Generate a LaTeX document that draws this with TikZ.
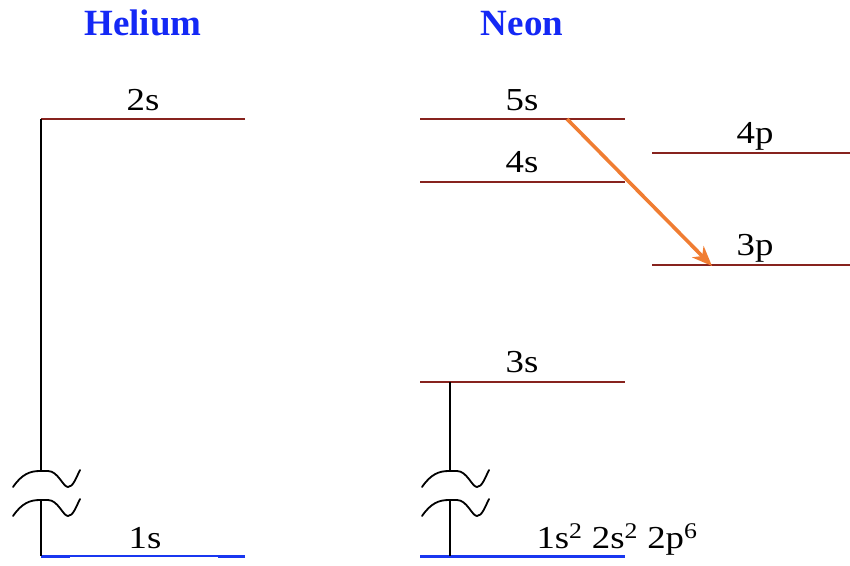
\documentclass[tikz,border=0pt]{standalone}
\usepackage{fontspec}
\setmainfont{Liberation Serif}
\usetikzlibrary{arrows.meta, positioning, calc}
\definecolor{LevelRed}{RGB}{135, 35, 30}
\definecolor{GroundBlue}{RGB}{25, 55, 240}
\definecolor{TitleBlue}{RGB}{20, 40, 245}
\definecolor{EmitOrange}{RGB}{240, 125, 50}
\tikzset{
  lvl/.style={draw=#1, line width=2.4pt},
  thinlvl/.style={draw=#1, line width=1.2pt},
  lbl/.style={font=\fontsize{32}{34}\selectfont, inner sep=0pt, anchor=base,
              xscale=1.15, transform shape},
  ttl/.style={font=\fontsize{37}{40}\selectfont\bfseries, text=TitleBlue,
              inner sep=0pt, anchor=base},
  axisline/.style={draw=black, line width=1.8pt},
  brk/.style={draw=black, line width=1.8pt, line cap=round},
  arr/.style={-{Stealth[length=20pt, width=16pt, inset=6pt]}, line width=3.6pt, color=#1},
}
\begin{document}
\begin{tikzpicture}[x=1pt, y=-1pt]
  \useasboundingbox (0,0) rectangle (850,565);

  % titles
  \node[ttl] (he) at (143,35) {Helium};
  \node[ttl] (ne) at (522,35) {Neon};

  % helium levels
  \coordinate (he2sL) at (41,119);  \coordinate (he2sR) at (245,119);
  \coordinate (he1sL) at (41,556);  \coordinate (he1sR) at (245,556);
  \draw[thinlvl=LevelRed]   (he2sL) -- (he2sR);
  \draw[lvl=LevelRed]       (he2sL) -- ++(29,0);
  \draw[lvl=LevelRed]       (he2sR) -- ++(-27,0);
  \draw[thinlvl=GroundBlue] (he1sL) -- (he1sR);
  \draw[lvl=GroundBlue, line width=3pt] (he1sL) -- ++(29,0);
  \draw[lvl=GroundBlue, line width=3pt] (he1sR) -- ++(-27,0);
  \node[lbl] (he2s) at (143,110) {2s};
  \node[lbl] (he1s) at (145,548) {1s};

  % neon levels
  \coordinate (ne5sL) at (420,119); \coordinate (ne5sR) at (625,119);
  \coordinate (ne4sL) at (420,182); \coordinate (ne4sR) at (625,182);
  \coordinate (ne3sL) at (420,382); \coordinate (ne3sR) at (625,382);
  \coordinate (ne4pL) at (652,153); \coordinate (ne4pR) at (850,153);
  \coordinate (ne3pL) at (652,265); \coordinate (ne3pR) at (850,265);
  \coordinate (ne1sL) at (420,556); \coordinate (ne1sR) at (625,556);
  \foreach \lv in {5s,4s,3s,4p,3p}
    \draw[lvl=LevelRed] (ne\lv L) -- (ne\lv R);
  \draw[lvl=GroundBlue, line width=3pt] (ne1sL) -- (ne1sR);
  \node[lbl] (ne5s) at (522,110) {5s};
  \node[lbl] (ne4s) at (522,172) {4s};
  \node[lbl] (ne3s) at (522,372) {3s};
  \node[lbl] (ne4p) at (755,143) {4p};
  \node[lbl] (ne3p) at (755,255) {3p};
  \node[lbl] (ne1s) at (617,548)
       {1s\textsuperscript{2} 2s\textsuperscript{2} 2p\textsuperscript{6}};

  % energy axes with breaks
  \foreach \ax/\top in {41/he2sL, 450/ne3sL} {
    \coordinate (brkA) at (\ax,471);
    \coordinate (brkB) at (\ax,500);
    \draw[axisline] (\top -| brkA) -- (brkA);
    \draw[axisline] (brkB) -- (brkB |- ne1sL);
    \foreach \y in {471,500}
      \draw[brk] (\ax-28,\y+16) .. controls (\ax-19,\y+3) and (\ax-11,\y) .. (\ax-1,\y)
                 -- (\ax+7,\y) .. controls (\ax+17,\y) and (\ax+22,\y+16) .. (\ax+27,\y+16)
                 .. controls (\ax+32,\y+16) and (\ax+35,\y+7) .. (\ax+39,\y-1);
  }

  % 5s -> 3p transition
  \coordinate (emitA) at (567,119);
  \coordinate (emitB) at (712,266);
  \draw[arr=EmitOrange] (emitA) -- (emitB);
\end{tikzpicture}
\end{document}
